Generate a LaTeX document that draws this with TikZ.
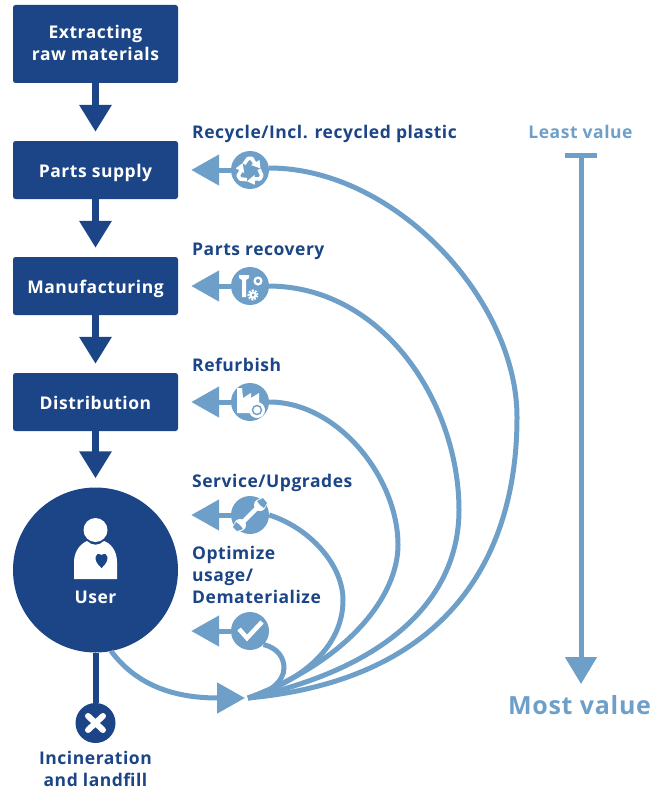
\documentclass[tikz,border=0pt]{standalone}
\usepackage{fontspec}
\setmainfont{Open Sans}[LetterSpace=3]
\usetikzlibrary{arrows.meta}
\definecolor{navy}{HTML}{1B4586}
\definecolor{sky}{HTML}{6E9FC9}
\tikzset{
  stagebox/.style={fill=navy,text=white,rounded corners=2.5pt,minimum width=165pt,align=center,inner sep=0pt,font=\bfseries\fontsize{17.5}{22}\selectfont},
  oneline/.style={text height=14pt,text depth=0pt},
  darrow/.style={draw=navy,line width=6.5pt,-{Triangle[length=27pt,width=31pt]},shorten >=9pt},
  larrow/.style={draw=sky,line width=5pt,-{Triangle[length=28pt,width=30pt]},shorten >=13pt},
  loop/.style={draw=sky,line width=5pt},
  iconb/.style={circle,fill=sky,minimum size=38pt,inner sep=0pt},
  lab/.style={text=navy,anchor=west,align=left,inner sep=0pt,font=\bfseries\fontsize{17.5}{22}\selectfont},
  ww/.style={draw=white,line width=3.6pt,line join=round},
}
\begin{document}
\begin{tikzpicture}[x=1pt,y=-1pt]
\useasboundingbox (0,0) rectangle (652,789);
% stages
\node[stagebox,minimum height=78pt] (b0) at (95.5,44) {};
\node[text=white,align=center,inner sep=0pt,font=\bfseries\fontsize{17.5}{22}\selectfont] (b0t) at (95.5,43) {Extracting\\raw materials};
\node[stagebox,oneline,minimum height=58pt] (b1) at (95.5,170) {Parts supply};
\node[stagebox,oneline,minimum height=58pt] (b2) at (95.5,286) {Manufacturing};
\node[stagebox,oneline,minimum height=58pt] (b3) at (95.5,402) {Distribution};
\node[circle,fill=navy,minimum size=165pt,inner sep=0pt] (u) at (95.5,570) {};
\node[text=white,inner sep=0pt,font=\bfseries\fontsize{17.5}{20}\selectfont] (ut) at (95.5,597) {User};
\node[circle,fill=navy,minimum size=40pt,inner sep=0pt] (x) at (95.5,723) {};
\draw[darrow] (b0.south) -- (b1.north);
\draw[darrow] (b1.south) -- (b2.north);
\draw[darrow] (b2.south) -- (b3.north);
\draw[darrow] (b3.south) -- (u.north);
\draw[navy,line width=6pt] (u.south) -- (x.north);
% person icon
\fill[white] (95.5,530) circle (12pt);
\fill[white] (74,579) -- (74,562) .. controls (74,550) and (82,543) .. (87,541) .. controls (92,546) and (99,546) .. (104,541) .. controls (110,543) and (117,550) .. (117,562) -- (117,579) -- cycle;
\fill[navy] (101.5,568) .. controls (92,560) and (95,551) .. (101.5,555) .. controls (108,551) and (111,560) .. (101.5,568) -- cycle;
% x icon
\draw[white,line width=6pt,line cap=round] (88,716) -- (103,730) (103,716) -- (88,730);
% light icons
\node[iconb] (i1) at (250,170) {};
\node[iconb] (i2) at (250,286) {};
\node[iconb] (i3) at (250,402) {};
\node[iconb] (i4) at (250,515) {};
\node[iconb] (i5) at (250,631) {};
\draw[larrow] (i1) -- (b1.east);
\draw[larrow] (i2) -- (b2.east);
\draw[larrow] (i3) -- (b3.east);
\draw[larrow] (i4) -- (i4 -| b3.east);
\draw[larrow] (i5) -- (i5 -| b3.east);
% loops
\coordinate (hub) at (248,698);
\draw[loop] (i1.east) ++(0,-2) .. controls (395,168) and (517,300) .. (517,417) .. controls (517,560) and (445,680) .. (hub);
\draw[loop] (i2.east) .. controls (385,287) and (459,405) .. (459,510) .. controls (459,590) and (400,665) .. (hub);
\draw[loop] (i3.east) .. controls (338,402) and (398,478) .. (398,545) .. controls (398,595) and (350,660) .. (hub);
\draw[loop] (i4.east) .. controls (310,528) and (343,565) .. (343,600) .. controls (343,645) and (305,680) .. (hub);
\draw[loop] (i5.south east) .. controls (278,648) and (284,658) .. (284,668) .. controls (284,682) and (268,694) .. (hub);
\coordinate (uo) at (111,651);
\draw[draw=sky,line width=5pt,-{Triangle[length=28pt,width=30pt]}] (uo) .. controls (135,683) and (170,698) .. (245,698);
% icon 1 recycle
\begin{scope}[shift={(250,171)}]
\foreach \a in {0,120,240}{
  \begin{scope}[rotate=\a]
  \draw[ww] (-6,-7) -- (-2,-12.5) -- (2,-12.5) -- (5,-7);
  \fill[white] (1,-6) -- (9.5,-11) -- (10.5,-2.5) -- cycle;
  \end{scope}
}
\end{scope}
% icon 2 tools
\begin{scope}[shift={(250,286)}]
\fill[white] (-11,-11) -- (-1,-11) -- (-1,-8) -- (-4,-6) -- (-4,11) -- (-8,11) -- (-8,-6) -- (-11,-8) -- cycle;
\draw[white,line width=2.2pt] (8,-5) circle (3.4pt);
\draw[white,line width=3pt,dash pattern=on 1.6pt off 1.2pt] (3,9) circle (4pt);
\fill[white] (3,9) circle (3.6pt);
\fill[sky] (3,9) circle (1.5pt);
\end{scope}
% icon 3 factory
\begin{scope}[shift={(250,402)}]
\fill[white] (-13,-14) -- (-8,-14) -- (-7,-4) -- (1,-9) -- (1,-4) -- (9,-9) -- (9,1) -- (3,8) -- (3,11) -- (-13,11) -- cycle;
\fill[white] (7,8) circle (8pt);
\draw[sky,line width=1.4pt] (7,8) circle (4.5pt);
\end{scope}
% icon 4 wrench
\begin{scope}[shift={(250,515)}]
\draw[white,line width=4.5pt] (-9,9) -- (9,-9);
\fill[white] (-10,10) circle (6pt) (10,-10) circle (6pt);
\fill[sky] (-14,7) -- (-10,10) -- (-7,14) -- (-13,16) -- (-17,12) -- cycle;
\fill[sky] (14,-7) -- (10,-10) -- (7,-14) -- (13,-17) -- (17,-12) -- cycle;
\end{scope}
% icon 5 check
\draw[white,line width=4.5pt,line join=miter] (239,629) -- (247,638) -- (262,622);
% labels
\node[lab,oneline] (l1) at (192,132) {Recycle/Incl. recycled plastic};
\node[lab,oneline] (l2) at (192,248) {Parts recovery};
\node[lab,oneline] (l3) at (192,364) {Refurbish};
\node[lab,oneline] (l4) at (192,480) {Service/Upgrades};
\node[lab,anchor=north west] (l5) at (192,546) {Optimize\\usage/\\Dematerialize};
\node[text=navy,align=center,inner sep=0pt,font=\bfseries\fontsize{17.5}{22}\selectfont] (l6) at (95.5,768.5) {Incineration\\and landfill};
% scale
\node[text=sky,inner sep=0pt,oneline,font=\bfseries\fontsize{17.5}{20}\selectfont] (least) at (580.5,132) {Least value};
\node[text=sky,inner sep=0pt,font=\bfseries\fontsize{25}{30}\selectfont] (most) at (579.5,705) {Most value};
\coordinate (st) at (581,155);
\coordinate (en) at (581,684);
\draw[sky,line width=5pt] (565,155) -- (597,155);
\draw[draw=sky,line width=5pt,-{Triangle[length=27pt,width=31pt]}] (st) -- (en);
\end{tikzpicture}
\end{document}
